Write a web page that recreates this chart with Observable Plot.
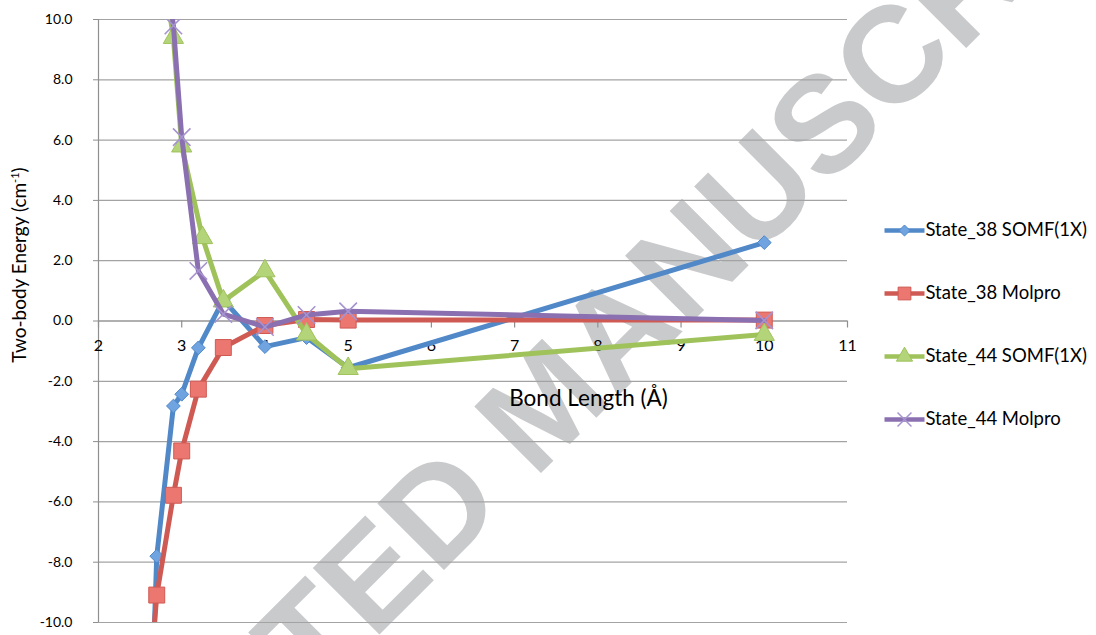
<!DOCTYPE html>
<html>
<head>
<meta charset="utf-8">
<script src="https://cdn.jsdelivr.net/npm/d3@7"></script>
<script src="https://cdn.jsdelivr.net/npm/@observablehq/plot@0.6"></script>
<style>
  body { margin: 0; background: #fff; }
  #chart { position: relative; width: 1096px; height: 635px; font-family: Lato, "Open Sans", sans-serif; color: #000; }
  #chart > svg.main { position: absolute; left: 0; top: 0; }
  #chart > svg.legend { position: absolute; left: 878px; top: 200px; }
  #ylabel { position: absolute; left: 18px; top: 265px; transform: translate(-50%, -50%) rotate(-90deg);
            white-space: nowrap; font-size: 19px; line-height: 1; }
  #ylabel sup { font-size: 11px; vertical-align: 7px; line-height: 0; }
</style>
</head>
<body>
<div id="chart">
  <div id="ylabel">Two-body Energy (cm<sup>-1</sup>)</div>
</div>
<script>
// Series names and styling
const seriesNames = ["State_38 SOMF(1X)", "State_38 Molpro", "State_44 SOMF(1X)", "State_44 Molpro"];
const lineColors = ["#5088c8", "#cf5a53", "#9fc25b", "#8a70b0"];
const markerFills = ["#70a4e0", "#ec7771", "#b4d47a", "#a693cf"];
const markerSymbols = ["diamond2", "square", "triangle", "times"];

// Bond length (Å) and two-body energy (cm^-1) for each series
const s38SomfX = [2.6, 2.7, 2.9, 3.0, 3.2, 3.5, 4.0, 4.5, 5.0, 10.0];
const s38SomfY = [-16.0, -7.8, -2.82, -2.43, -0.89, 0.7, -0.85, -0.55, -1.55, 2.6];
const s38MolproX = [2.6, 2.7, 2.9, 3.0, 3.2, 3.5, 4.0, 4.5, 5.0, 10.0];
const s38MolproY = [-12.6, -9.09, -5.78, -4.31, -2.26, -0.88, -0.15, 0.05, 0.03, 0.03];
const s44SomfX = [2.7, 2.9, 3.0, 3.25, 3.5, 4.0, 4.5, 5.0, 10.0];
const s44SomfY = [13.0, 9.4, 5.8, 2.76, 0.66, 1.66, -0.44, -1.58, -0.45];
const s44MolproX = [2.7, 2.9, 3.0, 3.2, 3.5, 4.0, 4.5, 5.0, 10.0];
const s44MolproY = [14.0, 9.8, 6.1, 1.66, 0.23, -0.2, 0.2, 0.32, 0.02];

// Axis ticks
const xTicks = [2, 3, 4, 5, 6, 7, 8, 9, 10, 11];
const yTicks = [-10, -8, -6, -4, -2, 0, 2, 4, 6, 8, 10];

const seriesX = [s38SomfX, s38MolproX, s44SomfX, s44MolproX];
const seriesY = [s38SomfY, s38MolproY, s44SomfY, s44MolproY];
const series = seriesNames.map((name, i) =>
  seriesX[i].map((x, j) => ({name, x, y: seriesY[i][j]})));

const dotSize = [6.2, 9, 7.5, 8];

function seriesMarks(data, i) {
  const isStroke = markerSymbols[i] === "times";
  return [
    Plot.line(data, {x: "x", y: "y", stroke: lineColors[i], strokeWidth: 5, strokeLinejoin: "round", clip: true}),
    Plot.dot(data, {
      x: "x", y: "y", symbol: markerSymbols[i], r: dotSize[i],
      fill: isStroke ? "none" : markerFills[i],
      stroke: isStroke ? markerFills[i] : lineColors[i],
      strokeWidth: isStroke ? 1.6 : 1, clip: true
    })
  ];
}

const chart = Plot.plot({
  width: 1096,
  height: 635,
  marginLeft: 98,
  marginRight: 249,
  marginTop: 19,
  marginBottom: 13,
  style: {fontFamily: "Lato, 'Open Sans', sans-serif", fontSize: "14px", color: "#000", background: "transparent"},
  x: {domain: [2, 11], axis: null},
  y: {domain: [-10, 10], axis: null},
  marks: [
    // watermark behind the chart
    Plot.text(["ACCEPTED MANUSCRIPT"], {
      frameAnchor: "top-left", dx: 448, dy: 386, rotate: -45,
      fontSize: 137, fontWeight: "bold", fontFamily: "'Liberation Sans', Arial, sans-serif",
      fill: "#c9cacc", textAnchor: "middle", lineAnchor: "middle"
    }),
    Plot.gridY(yTicks, {stroke: "#a3a3a3", strokeOpacity: 1, strokeWidth: 1.2}),
    Plot.ruleX([2], {y1: -10, y2: 10, stroke: "#8f8f8f", strokeWidth: 1.2}),
    Plot.axisY(yTicks, {tickFormat: d => d.toFixed(1), tickSize: 5, tickPadding: 21, fontSize: 14,
      stroke: "#8f8f8f", label: null}),
    Plot.ruleY([0], {x1: 2, x2: 11, stroke: "#8f8f8f", strokeWidth: 1.2}),
    Plot.ruleX(xTicks, {y1: 0, y2: 0, insetBottom: -7, stroke: "#8f8f8f", strokeWidth: 1.2}),
    Plot.text(xTicks, {x: d => d, y: 0, dy: 25, fontSize: 16, fill: "#000"}),
    Plot.text(["Bond Length (Å)"], {frameAnchor: "top-left", dx: 490, dy: 379, fontSize: 22.5, fill: "#000",
      textAnchor: "middle", lineAnchor: "middle"}),
    ...series.flatMap((data, i) => seriesMarks(data, i))
  ]
});
chart.classList.add("main");
document.getElementById("chart").appendChild(chart);

// Legend: one row per series with a line swatch, its marker and the name
const legend = Plot.plot({
  width: 218,
  height: 250,
  margin: 0,
  style: {fontFamily: "Lato, 'Open Sans', sans-serif", color: "#000", background: "transparent"},
  x: {domain: [0, 1], range: [6, 46], axis: null},
  y: {type: "point", domain: seriesNames, range: [30, 219], padding: 0, axis: null},
  marks: [
    ...seriesNames.flatMap((name, i) => {
      const isStroke = markerSymbols[i] === "times";
      return [
        Plot.link([name], {x1: 0, x2: 1, y1: d => d, y2: d => d, stroke: lineColors[i], strokeWidth: 4.5}),
        Plot.dot([name], {x: 0.5, y: d => d, symbol: markerSymbols[i], r: dotSize[i] * 0.8,
          fill: isStroke ? "none" : markerFills[i], stroke: isStroke ? markerFills[i] : lineColors[i],
          strokeWidth: isStroke ? 1.5 : 1})
      ];
    }),
    Plot.text(seriesNames, {x: 1, y: d => d, dx: 1, textAnchor: "start", fontSize: 18.5, fill: "#000"})
  ]
});
legend.classList.add("legend");
document.getElementById("chart").appendChild(legend);
</script>
</body>
</html>
